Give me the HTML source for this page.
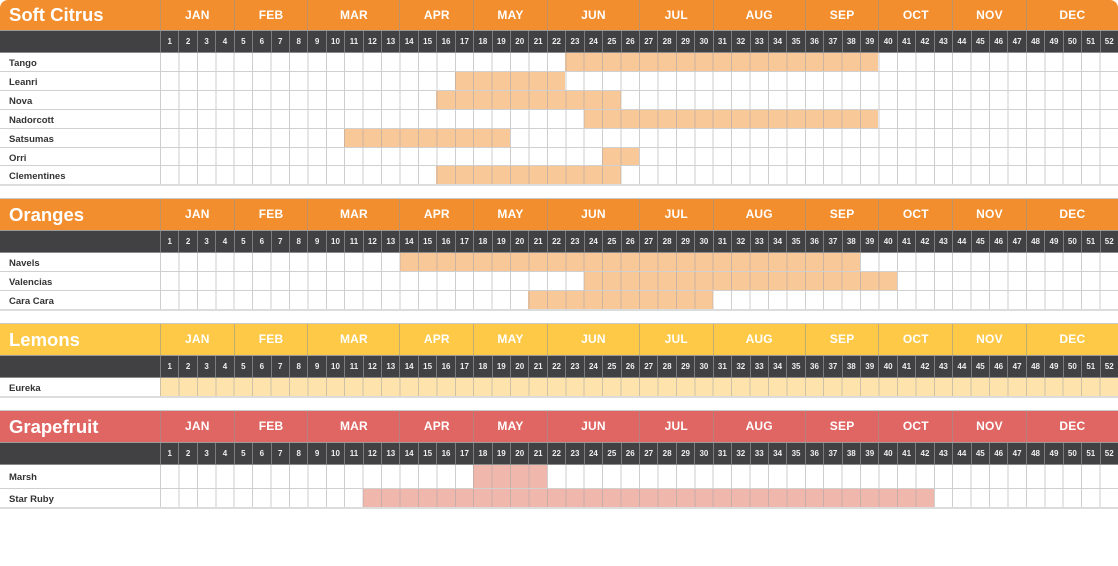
<!DOCTYPE html>
<html><head><meta charset="utf-8">
<style>
*{margin:0;padding:0}
html,body{width:1118px;height:566px;background:#fff;overflow:hidden;position:relative;font-family:"Liberation Sans",sans-serif}
.hd{position:absolute;left:0;width:1118px;color:#fff;box-sizing:border-box}
.ttl{position:absolute;left:9px;top:0;font-weight:bold;font-size:18.5px}
.months{position:absolute;left:160px;top:0;height:100%;display:flex}
.months span{display:block;height:100%;box-sizing:border-box;border-left:1px solid rgba(150,150,150,.55);text-align:center;font-weight:bold;font-size:12px;letter-spacing:.2px}
.m4{width:73.69px}.m5{width:92.12px}
.wk{position:absolute;left:0;width:1118px;height:23px;background:#414042;border-top:1px solid #9a9a9a;border-bottom:1px solid #8a8a8a;box-sizing:border-box}
.wk .n{position:absolute;left:160px;top:0;height:100%;display:flex}
.wk .n span{display:block;width:18.4231px;height:100%;box-sizing:border-box;border-left:1px solid #7c7c7e;text-align:center;color:#eee;font-weight:bold;font-size:8px;line-height:21px}
.row{position:absolute;left:0;width:1118px;box-sizing:border-box;border-bottom:1px solid #d0d0d0}
.row .lb{position:absolute;left:9px;top:2px;font-weight:bold;font-size:9.5px;color:#333}
.row .f{position:absolute;top:0;bottom:0}
.row .g{position:absolute;left:160px;width:958px;top:0;bottom:0;background:repeating-linear-gradient(to right,rgba(165,165,165,.55) 0,rgba(165,165,165,.55) 1px,transparent 1px,transparent 18.4231px)}
.o{background:#f9c899}.y{background:#ffe3ad}.p{background:#f0b7ad}
.last{border-bottom:2px solid #dcdcdc}
</style></head><body>

<!-- SOFT CITRUS -->
<div class="hd" style="top:0;height:30px;background:#f28e2e;border-radius:8px 8px 0 0;line-height:30px">
<div class="ttl">Soft Citrus</div>
<div class="months"><span class="m4">JAN</span><span class="m4">FEB</span><span class="m5">MAR</span><span class="m4">APR</span><span class="m4">MAY</span><span class="m5">JUN</span><span class="m4">JUL</span><span class="m5">AUG</span><span class="m4">SEP</span><span class="m4">OCT</span><span class="m4">NOV</span><span class="m5">DEC</span></div>
</div>
<div class="wk" style="top:30px"><div class="n"><span>1</span><span>2</span><span>3</span><span>4</span><span>5</span><span>6</span><span>7</span><span>8</span><span>9</span><span>10</span><span>11</span><span>12</span><span>13</span><span>14</span><span>15</span><span>16</span><span>17</span><span>18</span><span>19</span><span>20</span><span>21</span><span>22</span><span>23</span><span>24</span><span>25</span><span>26</span><span>27</span><span>28</span><span>29</span><span>30</span><span>31</span><span>32</span><span>33</span><span>34</span><span>35</span><span>36</span><span>37</span><span>38</span><span>39</span><span>40</span><span>41</span><span>42</span><span>43</span><span>44</span><span>45</span><span>46</span><span>47</span><span>48</span><span>49</span><span>50</span><span>51</span><span>52</span></div></div>

<div class="row" style="top:53px;height:19px;line-height:18px"><div class="f o" style="left:565.31px;width:313.19px"></div><div class="g"></div><div class="lb">Tango</div></div>
<div class="row" style="top:72px;height:19px;line-height:18px"><div class="f o" style="left:454.77px;width:110.54px"></div><div class="g"></div><div class="lb">Leanri</div></div>
<div class="row" style="top:91px;height:19px;line-height:18px"><div class="f o" style="left:436.35px;width:184.23px"></div><div class="g"></div><div class="lb">Nova</div></div>
<div class="row" style="top:110px;height:19px;line-height:18px"><div class="f o" style="left:583.73px;width:294.77px"></div><div class="g"></div><div class="lb">Nadorcott</div></div>
<div class="row" style="top:129px;height:18.5px;line-height:17.5px"><div class="f o" style="left:344.23px;width:165.81px"></div><div class="g"></div><div class="lb">Satsumas</div></div>
<div class="row" style="top:147.5px;height:18.75px;line-height:17.75px"><div class="f o" style="left:602.15px;width:36.85px"></div><div class="g"></div><div class="lb">Orri</div></div>
<div class="row last" style="top:166.25px;height:19.5px;line-height:17.5px"><div class="f o" style="left:436.35px;width:184.23px"></div><div class="g"></div><div class="lb">Clementines</div></div>

<!-- ORANGES -->
<div class="hd" style="top:198px;height:32px;background:#f28e2e;border-top:1px solid #c8c8c8;line-height:31px">
<div class="ttl">Oranges</div>
<div class="months"><span class="m4">JAN</span><span class="m4">FEB</span><span class="m5">MAR</span><span class="m4">APR</span><span class="m4">MAY</span><span class="m5">JUN</span><span class="m4">JUL</span><span class="m5">AUG</span><span class="m4">SEP</span><span class="m4">OCT</span><span class="m4">NOV</span><span class="m5">DEC</span></div>
</div>
<div class="wk" style="top:230px"><div class="n"><span>1</span><span>2</span><span>3</span><span>4</span><span>5</span><span>6</span><span>7</span><span>8</span><span>9</span><span>10</span><span>11</span><span>12</span><span>13</span><span>14</span><span>15</span><span>16</span><span>17</span><span>18</span><span>19</span><span>20</span><span>21</span><span>22</span><span>23</span><span>24</span><span>25</span><span>26</span><span>27</span><span>28</span><span>29</span><span>30</span><span>31</span><span>32</span><span>33</span><span>34</span><span>35</span><span>36</span><span>37</span><span>38</span><span>39</span><span>40</span><span>41</span><span>42</span><span>43</span><span>44</span><span>45</span><span>46</span><span>47</span><span>48</span><span>49</span><span>50</span><span>51</span><span>52</span></div></div>

<div class="row" style="top:253px;height:19px;line-height:18px"><div class="f o" style="left:399.5px;width:460.58px"></div><div class="g"></div><div class="lb">Navels</div></div>
<div class="row" style="top:272px;height:19px;line-height:18px"><div class="f o" style="left:583.73px;width:313.19px"></div><div class="g"></div><div class="lb">Valencias</div></div>
<div class="row last" style="top:291px;height:20px;line-height:18px"><div class="f o" style="left:528.46px;width:184.23px"></div><div class="g"></div><div class="lb">Cara Cara</div></div>

<!-- LEMONS -->
<div class="hd" style="top:323px;height:32px;background:#fdc946;border-top:1px solid #c8c8c8;line-height:31px">
<div class="ttl">Lemons</div>
<div class="months"><span class="m4">JAN</span><span class="m4">FEB</span><span class="m5">MAR</span><span class="m4">APR</span><span class="m4">MAY</span><span class="m5">JUN</span><span class="m4">JUL</span><span class="m5">AUG</span><span class="m4">SEP</span><span class="m4">OCT</span><span class="m4">NOV</span><span class="m5">DEC</span></div>
</div>
<div class="wk" style="top:355px"><div class="n"><span>1</span><span>2</span><span>3</span><span>4</span><span>5</span><span>6</span><span>7</span><span>8</span><span>9</span><span>10</span><span>11</span><span>12</span><span>13</span><span>14</span><span>15</span><span>16</span><span>17</span><span>18</span><span>19</span><span>20</span><span>21</span><span>22</span><span>23</span><span>24</span><span>25</span><span>26</span><span>27</span><span>28</span><span>29</span><span>30</span><span>31</span><span>32</span><span>33</span><span>34</span><span>35</span><span>36</span><span>37</span><span>38</span><span>39</span><span>40</span><span>41</span><span>42</span><span>43</span><span>44</span><span>45</span><span>46</span><span>47</span><span>48</span><span>49</span><span>50</span><span>51</span><span>52</span></div></div>

<div class="row last" style="top:378px;height:20px;line-height:18px"><div class="f y" style="left:160px;width:958px"></div><div class="g"></div><div class="lb">Eureka</div></div>

<!-- GRAPEFRUIT -->
<div class="hd" style="top:410px;height:32px;background:#e06663;border-top:1px solid #c8c8c8;line-height:31px">
<div class="ttl">Grapefruit</div>
<div class="months"><span class="m4">JAN</span><span class="m4">FEB</span><span class="m5">MAR</span><span class="m4">APR</span><span class="m4">MAY</span><span class="m5">JUN</span><span class="m4">JUL</span><span class="m5">AUG</span><span class="m4">SEP</span><span class="m4">OCT</span><span class="m4">NOV</span><span class="m5">DEC</span></div>
</div>
<div class="wk" style="top:442px"><div class="n"><span>1</span><span>2</span><span>3</span><span>4</span><span>5</span><span>6</span><span>7</span><span>8</span><span>9</span><span>10</span><span>11</span><span>12</span><span>13</span><span>14</span><span>15</span><span>16</span><span>17</span><span>18</span><span>19</span><span>20</span><span>21</span><span>22</span><span>23</span><span>24</span><span>25</span><span>26</span><span>27</span><span>28</span><span>29</span><span>30</span><span>31</span><span>32</span><span>33</span><span>34</span><span>35</span><span>36</span><span>37</span><span>38</span><span>39</span><span>40</span><span>41</span><span>42</span><span>43</span><span>44</span><span>45</span><span>46</span><span>47</span><span>48</span><span>49</span><span>50</span><span>51</span><span>52</span></div></div>

<div class="row" style="top:465px;height:24px;line-height:21px"><div class="f p" style="left:473.19px;width:73.69px"></div><div class="g"></div><div class="lb">Marsh</div></div>
<div class="row last" style="top:489px;height:20px;line-height:18px"><div class="f p" style="left:362.65px;width:571.12px"></div><div class="g"></div><div class="lb">Star Ruby</div></div>

</body></html>
